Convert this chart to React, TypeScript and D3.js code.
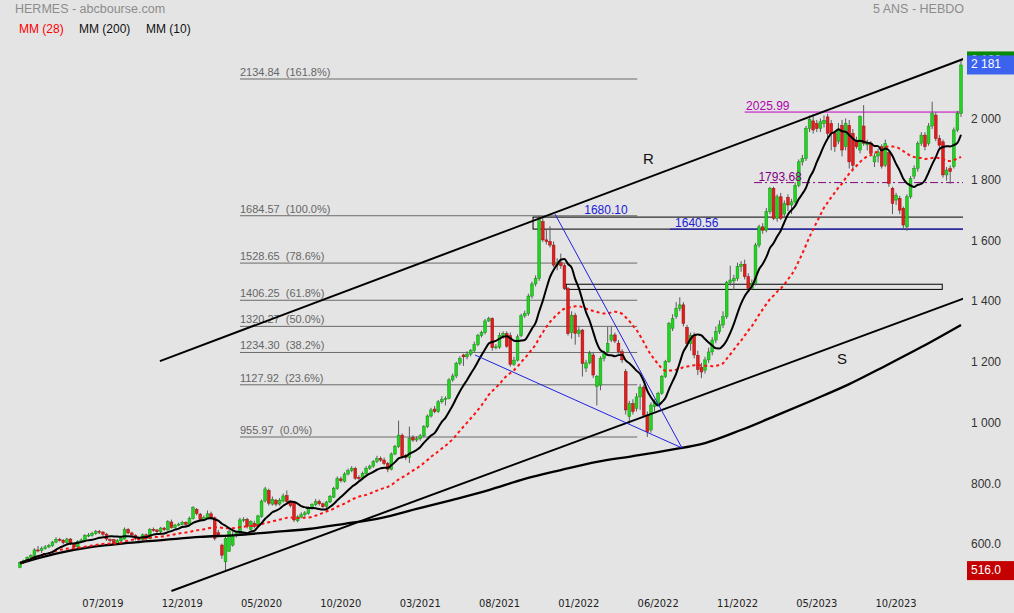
import * as d3 from 'd3';
import { useEffect } from 'react';

// weekly bars, first one = week of 4 Feb 2019
const startWeek = new Date(2019, 1, 4);

const opens = [
  527, 542, 549, 560, 566, 584, 582, 588, 594, 598,
  610, 619, 616, 608, 620, 606, 594, 612, 616, 630,
  632, 638, 645, 643, 636, 618, 618, 606, 614, 620,
  652, 640, 632, 622, 618, 634, 622, 652, 650, 644,
  656, 650, 676, 658, 666, 668, 675, 668, 688, 718,
  702, 684, 690, 703, 690, 641, 600, 545, 580, 600,
  633, 639, 683, 685, 652, 672, 666, 694, 745, 780,
  735, 748, 735, 745, 763, 743, 740, 680, 692, 700,
  705, 720, 733, 744, 736, 727, 742, 758, 786, 818,
  810, 834, 845, 853, 822, 822, 836, 853, 860, 876,
  885, 880, 869, 850, 900, 924, 962, 895, 889, 955,
  946, 950, 960, 990, 1025, 1048, 1040, 1072, 1080, 1083,
  1144, 1157, 1199, 1226, 1220, 1229, 1240, 1260, 1290, 1300,
  1338, 1346, 1250, 1252, 1290, 1296, 1290, 1195, 1209, 1290,
  1355, 1362, 1420, 1460, 1478, 1665, 1605, 1600, 1588, 1522,
  1530, 1520, 1445, 1300, 1357, 1297, 1308, 1183, 1200, 1226,
  1122, 1127, 1215, 1237, 1275, 1292, 1265, 1237, 1171, 1023,
  1066, 1050, 1088, 1120, 1028, 979, 1056, 1066, 1100, 1155,
  1204, 1314, 1352, 1380, 1391, 1317, 1264, 1290, 1225, 1185,
  1176, 1210, 1236, 1275, 1303, 1325, 1352, 1464, 1470, 1478,
  1517, 1525, 1484, 1445, 1462, 1588, 1648, 1637, 1698, 1775,
  1676, 1747, 1690, 1745, 1720, 1730, 1785, 1862, 1873, 1972,
  1997, 1988, 1972, 1988, 2010, 1988, 1956, 1930, 1982, 1912,
  1982, 1956, 1928, 1901, 1980, 1918, 1923, 1862, 1881, 1912,
  1851, 1892, 1775, 1736, 1742, 1709, 1648, 1747, 1815, 1840,
  1923, 1950, 1923, 1980, 2016, 1939, 1928, 1819, 1840, 1846,
  1967, 2022,
];

const highs = [
  545, 552, 563, 570, 590, 597, 596, 600, 604, 614,
  626, 624, 620, 624, 623, 608, 616, 622, 636, 640,
  644, 650, 650, 646, 640, 622, 620, 620, 626, 658,
  656, 644, 636, 626, 638, 638, 656, 658, 652, 660,
  660, 682, 684, 670, 674, 680, 678, 694, 728, 722,
  706, 698, 714, 710, 694, 650, 605, 628, 650, 645,
  645, 690, 692, 690, 682, 680, 700, 750, 792, 786,
  760, 752, 755, 770, 780, 748, 745, 698, 708, 712,
  728, 738, 752, 750, 740, 746, 765, 792, 826, 826,
  840, 852, 860, 858, 830, 842, 860, 865, 880, 894,
  892, 888, 874, 905, 930, 1010, 968, 900, 990, 962,
  958, 966, 995, 1030, 1052, 1058, 1078, 1090, 1090, 1150,
  1165, 1204, 1222, 1230, 1238, 1246, 1270, 1296, 1306, 1345,
  1352, 1350, 1262, 1300, 1304, 1304, 1300, 1220, 1294, 1362,
  1372, 1428, 1468, 1488, 1684.57, 1680, 1640, 1650, 1600, 1545,
  1560, 1528, 1450, 1370, 1365, 1320, 1312, 1210, 1240, 1235,
  1160, 1222, 1240, 1319, 1320, 1300, 1275, 1245, 1180, 1075,
  1080, 1100, 1130, 1128, 1040, 1070, 1080, 1105, 1160, 1210,
  1335, 1360, 1400, 1416, 1400, 1325, 1300, 1300, 1240, 1200,
  1220, 1250, 1285, 1320, 1340, 1370, 1470, 1520, 1490, 1530,
  1535, 1540, 1495, 1475, 1595, 1655, 1660, 1710, 1780, 1780,
  1755, 1760, 1735, 1755, 1740, 1795, 1870, 1885, 1980, 2015,
  2020, 2000, 2005, 2015, 2020, 2000, 1965, 1990, 2000, 2005,
  2000, 1970, 1945, 2015, 2049, 1935, 1930, 1890, 1905, 1920,
  1935, 1900, 1780, 1760, 1750, 1715, 1755, 1815, 1850, 1930,
  1960, 1960, 1990, 2060, 2025, 1950, 1935, 1845, 1850, 1975,
  2030, 2196,
];

const lows = [
  524, 538, 546, 556, 562, 576, 574, 585, 590, 594,
  606, 612, 602, 604, 602, 590, 590, 608, 612, 626,
  628, 634, 636, 630, 614, 610, 600, 602, 610, 618,
  636, 628, 616, 606, 614, 616, 620, 644, 640, 640,
  646, 648, 654, 654, 662, 664, 664, 664, 684, 698,
  678, 680, 686, 682, 615, 628, 555, 516, 578, 595,
  625, 635, 675, 655, 648, 655, 660, 690, 740, 730,
  730, 728, 730, 740, 738, 724, 676, 675, 688, 694,
  700, 716, 728, 730, 722, 722, 738, 755, 782, 806,
  806, 830, 840, 815, 812, 818, 832, 848, 855, 870,
  874, 864, 840, 846, 896, 920, 885, 880, 870, 940,
  940, 944, 955, 985, 1020, 1034, 1035, 1066, 1060, 1080,
  1138, 1150, 1192, 1190, 1212, 1222, 1234, 1255, 1284, 1294,
  1335, 1240, 1244, 1246, 1280, 1250, 1188, 1190, 1205, 1285,
  1348, 1355, 1412, 1452, 1470, 1598, 1590, 1580, 1515, 1505,
  1510, 1440, 1290, 1280, 1260, 1285, 1155, 1170, 1195, 1150,
  1060, 1110, 1205, 1230, 1268, 1265, 1230, 1200, 1030, 1000,
  1030, 1040, 1045, 1020, 955.97, 970, 1040, 1060, 1095, 1150,
  1200, 1305, 1345, 1370, 1320, 1255, 1240, 1215, 1160, 1150,
  1165, 1200, 1225, 1265, 1295, 1315, 1345, 1455, 1440, 1470,
  1500, 1475, 1440, 1440, 1455, 1580, 1625, 1630, 1690, 1670,
  1665, 1670, 1680, 1700, 1690, 1722, 1778, 1850, 1865, 1960,
  1955, 1960, 1960, 1975, 1940, 1900, 1895, 1920, 1880, 1900,
  1840, 1830, 1905, 1890, 1915, 1900, 1880, 1845, 1860, 1840,
  1845, 1780, 1690, 1720, 1690, 1640, 1635, 1740, 1805, 1830,
  1915, 1900, 1915, 1970, 1930, 1905, 1810, 1800, 1790, 1840,
  1960, 2010,
];

const closes = [
  542, 549, 560, 565, 584, 582, 588, 594, 598, 610,
  619, 618, 608, 620, 607, 594, 612, 617, 631, 633,
  639, 645, 642, 636, 620, 616, 606, 615, 622, 652,
  640, 633, 622, 619, 634, 621, 652, 650, 644, 656,
  651, 677, 658, 666, 669, 675, 668, 688, 723, 704,
  684, 691, 703, 688, 622, 633, 567, 622, 644, 633,
  640, 683, 685, 661, 677, 661, 696, 745, 785, 738,
  750, 735, 748, 762, 743, 730, 683, 693, 700, 706,
  721, 733, 743, 736, 727, 742, 760, 787, 820, 812,
  834, 845, 853, 820, 820, 836, 853, 860, 875, 885,
  880, 869, 850, 900, 924, 962, 891, 889, 952, 946,
  950, 960, 990, 1025, 1045, 1040, 1072, 1080, 1083, 1144,
  1157, 1199, 1215, 1220, 1229, 1240, 1260, 1290, 1300, 1338,
  1346, 1250, 1253, 1290, 1296, 1255, 1195, 1209, 1286, 1355,
  1362, 1420, 1460, 1478, 1672, 1605, 1600, 1588, 1522, 1530,
  1520, 1445, 1297, 1357, 1297, 1308, 1198, 1200, 1231, 1160,
  1155, 1215, 1230, 1264, 1292, 1272, 1237, 1210, 1045, 1066,
  1040, 1088, 1120, 1028, 973, 1061, 1072, 1100, 1155, 1204,
  1330, 1346, 1380, 1391, 1330, 1264, 1290, 1226, 1178, 1170,
  1210, 1236, 1275, 1303, 1325, 1352, 1464, 1473, 1478, 1517,
  1525, 1484, 1445, 1462, 1588, 1648, 1637, 1698, 1775, 1676,
  1747, 1676, 1725, 1720, 1730, 1785, 1862, 1873, 1972, 2002,
  1967, 1972, 1994, 1999, 1956, 1956, 1912, 1967, 1901, 1988,
  1862, 1851, 1912, 2011, 1923, 1925, 1890, 1881, 1895, 1848,
  1923, 1791, 1725, 1752, 1703, 1654, 1747, 1807, 1840, 1923,
  1950, 1912, 1980, 2022, 1939, 1917, 1819, 1835, 1830, 1967,
  2022, 2181,
];

// MM(200) (history before the window is not shown)
const mm200Idx = [0, 10, 20, 30, 40, 50, 60, 70, 80, 90, 100, 110, 120, 130, 140, 150, 160, 170, 180, 190, 200, 210, 220, 230, 240, 250, 261];
const mm200Val = [540, 572, 594, 607, 617, 627, 633, 643, 653, 670, 689, 719, 749, 781, 818, 847, 874, 893, 913, 936, 979, 1028, 1078, 1130, 1190, 1252, 1325];

const fibLevels = [955.97, 1127.92, 1234.3, 1320.27, 1406.25, 1528.65, 1684.57, 2134.84];
const fibPcts = ['0.0%', '23.6%', '38.2%', '50.0%', '61.8%', '78.6%', '100.0%', '161.8%'];
const fibFrom = 61;
const fibTo = 171.2;

const yTicks = [600, 800, 1000, 1200, 1400, 1600, 1800, 2000];
const xTickIdx = [23, 45, 67, 89, 111, 133, 155, 177, 199, 221, 243];

// trendlines as [bar index, price]
const lineR = [[38.8, 1206], [262.2, 2203]];
const lineS = [[42, 449], [262.2, 1414]];
const wedgeTop = [[148.4, 1690], [183.6, 920]];
const wedgeBottom = [[126.2, 1226], [183.6, 920]];

const FONT = '"Liberation Sans", Arial, sans-serif';
const NARROW = '"Liberation Sans Narrow", "Arial Narrow", "DejaVu Sans Condensed", sans-serif';

function movingAverage(values: number[], n: number) {
  return values.map((_, i) => d3.mean(values.slice(Math.max(0, i - n + 1), i + 1)) as number);
}

export default function App() {
  useEffect(() => {
    document.body.style.margin = '0';
    document.body.style.background = '#e4e4e4';
  }, []);

  const last = closes.length - 1;
  const x = d3.scaleLinear().domain([0, last]).range([20, 961]);
  const y = d3.scaleLinear().domain([955.97, 2134.84]).range([437, 79]);
  const right = 963;

  const dates = closes.map((_, i) => d3.timeWeek.offset(startWeek, i));
  const fmtDate = d3.timeFormat('%m/%Y');
  const fmtPrice = (v: number) => (v >= 1000 ? d3.format(',')(v).replace(',', ' ') : d3.format('.1f')(v));

  const mm10 = movingAverage(closes, 10);
  const mm28 = movingAverage(closes, 28);

  const maLine = d3.line<number>().x((_, i) => x(i)).y((d) => y(d)).curve(d3.curveMonotoneX);
  const mm200Line = d3.line<number>().x((_, k) => x(mm200Idx[k])).y((d) => y(d)).curve(d3.curveMonotoneX);
  const seg = d3.line<number[]>().x((d) => x(d[0])).y((d) => y(d[1]));

  const bodyW = 2.8;
  const lastClose = closes[last];
  const maxHigh = d3.max(highs) as number;
  const minLow = d3.min(lows) as number;

  return (
    <svg width={1014} height={613} style={{ display: 'block', background: '#e4e4e4', fontFamily: FONT }}>
      <defs>
        <clipPath id="plot">
          <rect x={0} y={15} width={right} height={577} />
        </clipPath>
      </defs>

      {/* header */}
      <text x={15} y={13} fontSize={12.5} fill="#8c8c8c">HERMES - abcbourse.com</text>
      <text x={964} y={13} fontSize={12.5} fill="#8c8c8c" textAnchor="end">5 ANS - HEBDO</text>
      <text x={19} y={33} fontSize={12} fill="#ff0000">MM (28)</text>
      <text x={79} y={33} fontSize={12} fill="#111">MM (200)</text>
      <text x={146} y={33} fontSize={12} fill="#111">MM (10)</text>

      <g clipPath="url(#plot)">
        {/* Fibonacci retracements */}
        {fibLevels.map((lv, k) => (
          <g key={lv}>
            <line x1={x(fibFrom)} x2={x(fibTo)} y1={y(lv)} y2={y(lv)} stroke="#6a6a6a" strokeWidth={1} />
            <text x={x(fibFrom)} y={y(lv) - 3} fontSize={11} fill="#666" style={{ whiteSpace: 'pre' }}>
              {`${lv.toFixed(2)}  (${fibPcts[k]})`}
            </text>
          </g>
        ))}

        {/* horizontal levels */}
        <rect x={x(142.3)} y={y(1680.1)} width={right + 5 - x(142.3)} height={y(1640.56) - y(1680.1)} fill="none" stroke="#000" strokeWidth={1} />
        <line x1={x(180.3)} x2={right} y1={y(1640.56)} y2={y(1640.56)} stroke="#1010d0" strokeWidth={1} />
        <rect x={x(151.5)} y={y(1459)} width={x(255.8) - x(151.5)} height={y(1442) - y(1459)} fill="none" stroke="#000" strokeWidth={1} />
        <line x1={x(201)} x2={right} y1={y(2025.99)} y2={y(2025.99)} stroke="#c000c0" strokeWidth={1} />
        <line x1={x(203.6)} x2={right} y1={y(1793.68)} y2={y(1793.68)} stroke="#800080" strokeWidth={1} strokeDasharray="8 3 2 3" />

        {/* candles */}
        {closes.map((c, i) => {
          const o = opens[i];
          const up = c > o;
          const down = c < o;
          const fill = up ? '#22d322' : down ? '#e01e1e' : '#777';
          const stroke = up ? '#129012' : down ? '#9a1010' : '#555';
          const top = y(Math.max(o, c));
          const h = Math.max(1, y(Math.min(o, c)) - top);
          return (
            <g key={i}>
              <line x1={x(i)} x2={x(i)} y1={y(highs[i])} y2={y(lows[i])} stroke="#5a5a5a" strokeWidth={1} />
              <rect x={x(i) - bodyW / 2} y={top} width={bodyW} height={h} fill={fill} stroke={stroke} strokeWidth={0.5} />
            </g>
          );
        })}

        {/* moving averages */}
        <path d={mm200Line(mm200Val) ?? ''} fill="none" stroke="#000" strokeWidth={2.3} />
        <path d={maLine(mm28) ?? ''} fill="none" stroke="#ff1010" strokeWidth={2} strokeDasharray="3 3" />
        <path d={maLine(mm10) ?? ''} fill="none" stroke="#000" strokeWidth={2} />

        {/* channel and wedge */}
        <path d={seg(lineR) ?? ''} fill="none" stroke="#000" strokeWidth={2} />
        <path d={seg(lineS) ?? ''} fill="none" stroke="#000" strokeWidth={2} />
        <path d={seg(wedgeTop) ?? ''} fill="none" stroke="#2020e0" strokeWidth={1} />
        <path d={seg(wedgeBottom) ?? ''} fill="none" stroke="#2020e0" strokeWidth={1} />

        {/* labels */}
        <text x={x(156.5)} y={y(1680.1) - 3} fontSize={12} fill="#2020d8">1680.10</text>
        <text x={x(181.7)} y={y(1640.56) - 2} fontSize={12} fill="#2020d8">1640.56</text>
        <text x={x(201.4)} y={y(2025.99) - 2} fontSize={12} fill="#b000b0">2025.99</text>
        <text x={x(204.8)} y={y(1793.68) - 2} fontSize={12} fill="#800080">1793.68</text>
        <text x={x(174.3)} y={y(1868)} fontSize={15} fill="#111" textAnchor="middle" dominantBaseline="middle">R</text>
        <text x={x(228)} y={y(1209)} fontSize={15} fill="#111" textAnchor="middle" dominantBaseline="middle">S</text>
      </g>

      {/* price axis */}
      {yTicks.map((t) => (
        <text key={t} x={971} y={y(t)} fontSize={12} fill="#333" dominantBaseline="middle">{fmtPrice(t)}</text>
      ))}
      <rect x={967} y={y(maxHigh) - 9} width={47} height={18} fill="#0a8a0a" />
      <text x={971} y={y(maxHigh)} fontSize={12} fill="#fff" dominantBaseline="middle">{fmtPrice(maxHigh)}</text>
      <rect x={967} y={y(lastClose) - 9.5} width={47} height={19} fill="#3b63ee" />
      <text x={971} y={y(lastClose)} fontSize={12} fill="#fff" dominantBaseline="middle">{fmtPrice(lastClose)}</text>
      <rect x={967} y={y(minLow) - 9.5} width={47} height={19} fill="#c40000" />
      <text x={971} y={y(minLow)} fontSize={12} fill="#fff" dominantBaseline="middle">{minLow.toFixed(1)}</text>

      {/* time axis */}
      {xTickIdx.map((i) => (
        <text key={i} x={x(i)} y={607} fontSize={11} fill="#222" textAnchor="middle" fontFamily={NARROW}>
          {fmtDate(dates[i])}
        </text>
      ))}
    </svg>
  );
}
